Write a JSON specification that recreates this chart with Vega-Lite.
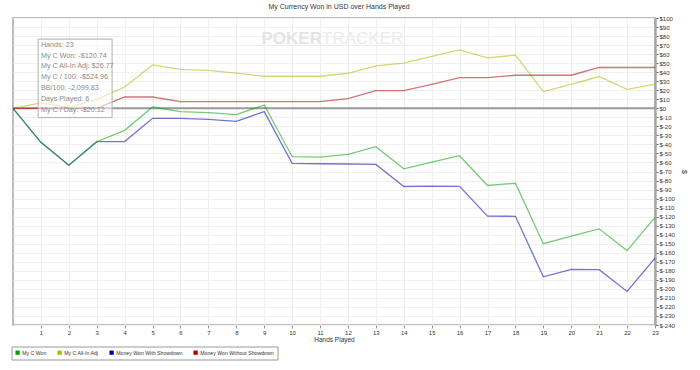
{
  "$schema": "https://vega.github.io/schema/vega-lite/v6.json",
  "width": 642,
  "height": 307,
  "autosize": {"type": "none"},
  "padding": {"left": 13, "top": 18, "right": 45, "bottom": 45},
  "background": "white",
  "title": {"text": "My Currency Won in USD over Hands Played", "fontSize": 7, "font": "Liberation Sans", "fontWeight": "normal", "color": "#333", "offset": 5, "dx": 5},
  "config": {
    "font": "Liberation Sans",
    "view": {"stroke": "#a8a8a8", "strokeWidth": 1.5},
    "axis": {"labelOverlap": false, "labelBound": false, "labelFlush": false, "tickCount": 200, "grid": true, "gridColor": "#efefef", "gridWidth": 1, "labelFontSize": 6, "labelColor": "#333", "labelPadding": 1, "tickSize": 3, "titleFontWeight": "normal", "titleColor": "#333"}
  },
  "datasets": {
    "series": [
      {"h":0,"s":"Money Won With Showdown","v":0},{"h":1,"s":"Money Won With Showdown","v":-37.7},{"h":2,"s":"Money Won With Showdown","v":-63},{"h":3,"s":"Money Won With Showdown","v":-37},{"h":4,"s":"Money Won With Showdown","v":-36.9},{"h":5,"s":"Money Won With Showdown","v":-11.1},{"h":6,"s":"Money Won With Showdown","v":-11.1},{"h":7,"s":"Money Won With Showdown","v":-12.2},{"h":8,"s":"Money Won With Showdown","v":-14.4},{"h":9,"s":"Money Won With Showdown","v":-3.7},{"h":10,"s":"Money Won With Showdown","v":-61},{"h":11,"s":"Money Won With Showdown","v":-61.4},{"h":12,"s":"Money Won With Showdown","v":-61.7},{"h":13,"s":"Money Won With Showdown","v":-62.1},{"h":14,"s":"Money Won With Showdown","v":-86.6},{"h":15,"s":"Money Won With Showdown","v":-86.2},{"h":16,"s":"Money Won With Showdown","v":-86.5},{"h":17,"s":"Money Won With Showdown","v":-119.5},{"h":18,"s":"Money Won With Showdown","v":-119.6},{"h":19,"s":"Money Won With Showdown","v":-186.6},{"h":20,"s":"Money Won With Showdown","v":-178.3},{"h":21,"s":"Money Won With Showdown","v":-178.7},{"h":22,"s":"Money Won With Showdown","v":-202.8},{"h":23,"s":"Money Won With Showdown","v":-165.94},
      {"h":0,"s":"My C Won","v":0},{"h":1,"s":"My C Won","v":-37.7},{"h":2,"s":"My C Won","v":-63},{"h":3,"s":"My C Won","v":-37},{"h":4,"s":"My C Won","v":-24.4},{"h":5,"s":"My C Won","v":1.4},{"h":6,"s":"My C Won","v":-3.7},{"h":7,"s":"My C Won","v":-4.8},{"h":8,"s":"My C Won","v":-7},{"h":9,"s":"My C Won","v":3.7},{"h":10,"s":"My C Won","v":-53.6},{"h":11,"s":"My C Won","v":-54},{"h":12,"s":"My C Won","v":-51},{"h":13,"s":"My C Won","v":-42.5},{"h":14,"s":"My C Won","v":-67},{"h":15,"s":"My C Won","v":-59.6},{"h":16,"s":"My C Won","v":-52.5},{"h":17,"s":"My C Won","v":-85.5},{"h":18,"s":"My C Won","v":-83},{"h":19,"s":"My C Won","v":-150},{"h":20,"s":"My C Won","v":-141.7},{"h":21,"s":"My C Won","v":-133.5},{"h":22,"s":"My C Won","v":-157.6},{"h":23,"s":"My C Won","v":-120.74},
      {"h":0,"s":"My C All-In Adj","v":0},{"h":1,"s":"My C All-In Adj","v":6},{"h":2,"s":"My C All-In Adj","v":1},{"h":3,"s":"My C All-In Adj","v":10},{"h":4,"s":"My C All-In Adj","v":23.6},{"h":5,"s":"My C All-In Adj","v":48},{"h":6,"s":"My C All-In Adj","v":43},{"h":7,"s":"My C All-In Adj","v":42},{"h":8,"s":"My C All-In Adj","v":39},{"h":9,"s":"My C All-In Adj","v":35.5},{"h":10,"s":"My C All-In Adj","v":35.5},{"h":11,"s":"My C All-In Adj","v":35.5},{"h":12,"s":"My C All-In Adj","v":38.8},{"h":13,"s":"My C All-In Adj","v":47},{"h":14,"s":"My C All-In Adj","v":50},{"h":15,"s":"My C All-In Adj","v":57.4},{"h":16,"s":"My C All-In Adj","v":64.7},{"h":17,"s":"My C All-In Adj","v":55.8},{"h":18,"s":"My C All-In Adj","v":58.8},{"h":19,"s":"My C All-In Adj","v":18.5},{"h":20,"s":"My C All-In Adj","v":26.6},{"h":21,"s":"My C All-In Adj","v":35.2},{"h":22,"s":"My C All-In Adj","v":21},{"h":23,"s":"My C All-In Adj","v":26.77},
      {"h":0,"s":"Money Won Without Showdown","v":0},{"h":1,"s":"Money Won Without Showdown","v":0},{"h":2,"s":"Money Won Without Showdown","v":0},{"h":3,"s":"Money Won Without Showdown","v":0},{"h":4,"s":"Money Won Without Showdown","v":12.5},{"h":5,"s":"Money Won Without Showdown","v":12.5},{"h":6,"s":"Money Won Without Showdown","v":7.4},{"h":7,"s":"Money Won Without Showdown","v":7.4},{"h":8,"s":"Money Won Without Showdown","v":7.4},{"h":9,"s":"Money Won Without Showdown","v":7.4},{"h":10,"s":"Money Won Without Showdown","v":7.4},{"h":11,"s":"Money Won Without Showdown","v":7.4},{"h":12,"s":"Money Won Without Showdown","v":10.7},{"h":13,"s":"Money Won Without Showdown","v":19.6},{"h":14,"s":"Money Won Without Showdown","v":19.6},{"h":15,"s":"Money Won Without Showdown","v":26.6},{"h":16,"s":"Money Won Without Showdown","v":34},{"h":17,"s":"Money Won Without Showdown","v":34},{"h":18,"s":"Money Won Without Showdown","v":36.6},{"h":19,"s":"Money Won Without Showdown","v":36.6},{"h":20,"s":"Money Won Without Showdown","v":36.6},{"h":21,"s":"Money Won Without Showdown","v":45.2},{"h":22,"s":"Money Won Without Showdown","v":45.2},{"h":23,"s":"Money Won Without Showdown","v":45.2}
    ],
    "info": [
      {"lines": ["Hands: 23", "My C Won: -$120.74", "My C All-In Adj: $26.77", "My C / 100: -$524.96", "BB/100: -2,099.83", "Days Played: 6", "My C / Day: -$20.12"]}
    ],
    "zero": [{"v": 0}]
  },
  "layer": [
    {
      "data": {"name": "series"},
      "mark": {"type": "line", "strokeWidth": 0, "opacity": 0},
      "encoding": {
        "x": {"field": "h", "type": "quantitative", "scale": {"domain": [0, 23], "nice": false, "zero": false},
          "axis": {"title": "Hands Played", "format": "d", "labelOverlap": false, "tickCount": 200, "values": [1,2,3,4,5,6,7,8,9,10,11,12,13,14,15,16,17,18,19,20,21,22,23], "domain": false, "tickColor": "#999", "titleFontSize": 6.5, "titlePadding": 1}},
        "y": {"field": "v", "type": "quantitative", "scale": {"domain": [-240, 100], "nice": false, "zero": false},
          "axis": {"orient": "right", "title": "$", "labelOverlap": false, "tickCount": 200, "titleAngle": 90, "titleFontSize": 7, "titlePadding": 6,
            "values": [-240,-230,-220,-210,-200,-190,-180,-170,-160,-150,-140,-130,-120,-110,-100,-90,-80,-70,-60,-50,-40,-30,-20,-10,0,10,20,30,40,50,60,70,80,90,100],
            "labelExpr": "'$' + datum.value", "domainColor": "#a8a8a8", "domainWidth": 2.5, "tickColor": "#666"}},
        "detail": {"field": "s", "type": "nominal"}
      }
    },
    {
      "data": {"values": [{"t": "POKER"}]},
      "mark": {"type": "text", "align": "right", "baseline": "middle", "fontSize": 17, "fontWeight": "bold", "color": "#e4e4e4"},
      "encoding": {"x": {"datum": 11.07, "type": "quantitative"}, "y": {"datum": 76.5, "type": "quantitative"}, "text": {"field": "t"}}
    },
    {
      "data": {"values": [{"t": "TRACKER"}]},
      "mark": {"type": "text", "align": "left", "baseline": "middle", "fontSize": 17, "color": "#ececec"},
      "encoding": {"x": {"datum": 11.07, "type": "quantitative"}, "y": {"datum": 76.5, "type": "quantitative"}, "text": {"field": "t"}}
    },
    {
      "data": {"name": "zero"},
      "mark": {"type": "rule", "color": "#999", "strokeWidth": 2},
      "encoding": {"y": {"field": "v", "type": "quantitative"}}
    },
    {
      "data": {"name": "series"},
      "mark": {"type": "line", "strokeWidth": 1.3, "opacity": 0.55},
      "encoding": {
        "x": {"field": "h", "type": "quantitative"},
        "y": {"field": "v", "type": "quantitative"},
        "color": {"field": "s", "type": "nominal",
          "scale": {"domain": ["My C Won", "My C All-In Adj", "Money Won With Showdown", "Money Won Without Showdown"], "range": ["#00a000", "#b4b400", "#0000b0", "#b00000"]},
          "legend": {"title": null, "orient": "none", "legendX": -1.5, "legendY": 328.5, "direction": "horizontal", "columns": 4, "columnPadding": 9,
            "symbolType": "square", "symbolSize": 14, "symbolOpacity": 1, "symbolStrokeWidth": 0.5, "labelFontSize": 5.2, "labelColor": "#333", "labelOffset": 2,
            "padding": 3.5, "strokeColor": "#999", "fillColor": "white",
            "encode": {"symbols": {"update": {"fill": {"scale": "color", "field": "value"}, "stroke": {"value": "#333"}, "opacity": {"value": 1}}}}}
        }
      }
    },
    {
      "data": {"values": [{"a": 1}]},
      "mark": {"type": "rect", "fill": "white", "fillOpacity": 0.55, "stroke": "#b0b0b0", "strokeWidth": 1},
      "encoding": {"x": {"datum": 0.9, "type": "quantitative"}, "x2": {"datum": 3.55}, "y": {"datum": 76.6, "type": "quantitative"}, "y2": {"datum": -10.3}}
    },
    {
      "data": {"name": "info"},
      "mark": {"type": "text", "align": "left", "baseline": "middle", "fontSize": 7.2, "lineHeight": 10.8, "color": "#8c8c8c", "font": "Liberation Sans"},
      "encoding": {"x": {"datum": 1.0, "type": "quantitative"}, "y": {"datum": 70.3, "type": "quantitative"}, "text": {"field": "lines"}}
    }
  ]
}
